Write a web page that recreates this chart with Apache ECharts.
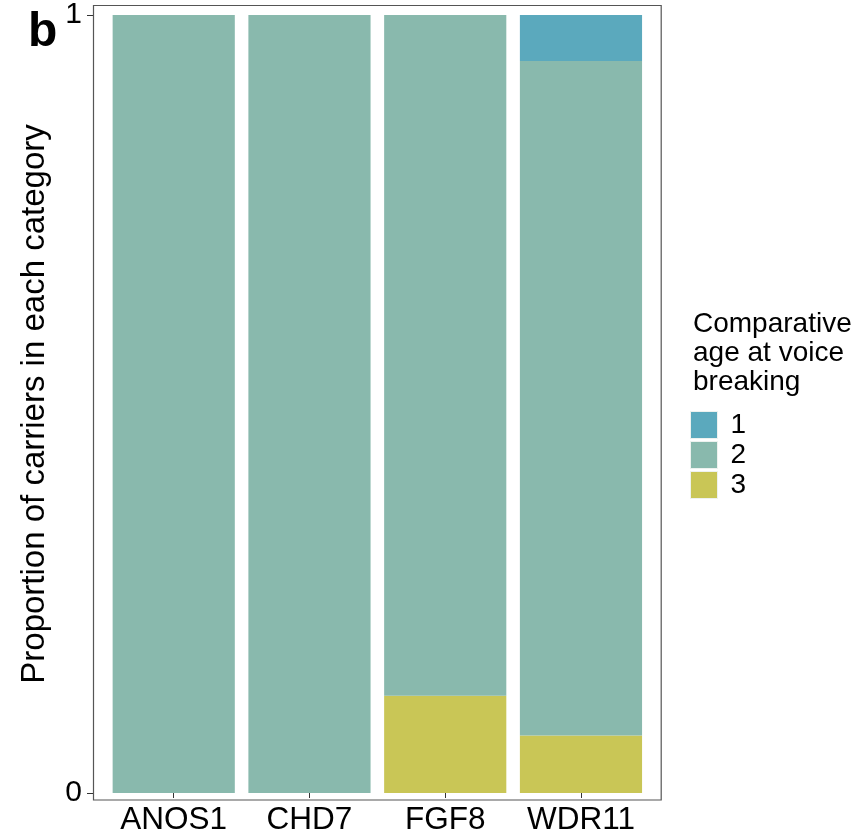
<!DOCTYPE html>
<html>
<head>
<meta charset="utf-8">
<script src="https://cdn.jsdelivr.net/npm/echarts@6/dist/echarts.min.js"></script>
<style>
  html, body { margin: 0; padding: 0; background: #fff; }
  #chart { width: 861px; height: 839px; }
</style>
</head>
<body>
<div id="chart"></div>
<script>
// Genes on the x axis
const genes = ['ANOS1', 'CHD7', 'FGF8', 'WDR11'];

// Proportion of carriers in each comparative age category (1 = early, 2 = normal, 3 = late)
const cat1 = [0, 0, 0, 0.059];
const cat2 = [1, 1, 0.875, 0.867];
const cat3 = [0, 0, 0.125, 0.074];

const categoryNames = ['1', '2', '3'];
const categoryColors = { '1': '#5BA9BD', '2': '#89B9AD', '3': '#C9C656' };

const yTicks = [0, 1];

const FONT = 'Liberation Sans, Arial, Helvetica, sans-serif';

const chart = echarts.init(document.getElementById('chart'), null, { renderer: 'canvas' });

// Panel frame around the plotting region; the category bands sit inside it with a small pad
const panel = { left: 93, top: 5, right: 661.7, bottom: 800 };
const bandPad = 12.85;

const makeSeries = (name, values) => ({
  name: name,
  type: 'bar',
  stack: 'total',
  barCategoryGap: '10%',
  data: values,
  itemStyle: { color: categoryColors[name] },
  emphasis: { disabled: true }
});

chart.setOption({
  animation: false,
  backgroundColor: '#fff',
  textStyle: { fontFamily: FONT },
  title: [
    {
      text: 'b',
      left: 23,
      top: 4,
      textStyle: { fontFamily: FONT, fontSize: 48, fontWeight: 'bold', color: '#000' }
    },
    {
      text: 'Comparative\nage at voice\nbreaking',
      left: 688,
      top: 305,
      textStyle: { fontFamily: FONT, fontSize: 28, fontWeight: 'normal', color: '#000', lineHeight: 29 }
    }
  ],
  legend: {
    orient: 'vertical',
    left: 690,
    top: 411,
    padding: 0,
    itemWidth: 27,
    itemHeight: 27,
    itemGap: 2,
    icon: 'rect',
    data: categoryNames,
    selectedMode: false,
    textStyle: { fontFamily: FONT, fontSize: 28, color: '#000', padding: [0, 0, 0, 8] },
    itemStyle: { borderColor: '#eef2ef', borderWidth: 1 }
  },
  grid: {
    left: panel.left + bandPad,
    right: 861 - (panel.right - bandPad),
    top: 13,
    bottom: 839 - 793
  },
  xAxis: {
    type: 'category',
    data: genes,
    offset: 7,
    axisLine: { show: false },
    axisTick: { show: true, alignWithLabel: true, length: 5, lineStyle: { color: '#333' } },
    axisLabel: { fontFamily: FONT, fontSize: 31.5, color: '#000', margin: 4, interval: 0 }
  },
  yAxis: {
    type: 'value',
    min: 0,
    max: 1,
    interval: 1,
    offset: bandPad,
    name: 'Proportion of carriers in each category',
    nameLocation: 'middle',
    nameGap: 42,
    nameTextStyle: { fontFamily: FONT, fontSize: 33, color: '#000' },
    splitLine: { show: false },
    axisLine: { show: false },
    axisTick: { show: true, length: 6, lineStyle: { color: '#333' } },
    axisLabel: {
      fontFamily: FONT, fontSize: 30, color: '#000', margin: 11,
      formatter: v => (yTicks.includes(v) ? String(v) : '')
    }
  },
  graphic: [
    {
      type: 'rect',
      silent: true,
      z: 10,
      shape: {
        x: panel.left + 0.5,
        y: panel.top + 0.5,
        width: panel.right - panel.left - 1,
        height: panel.bottom - panel.top - 0.5
      },
      style: { fill: 'none', stroke: '#555', lineWidth: 1.2 }
    }
  ],
  series: [
    makeSeries('3', cat3),
    makeSeries('2', cat2),
    makeSeries('1', cat1)
  ]
});
</script>
</body>
</html>
